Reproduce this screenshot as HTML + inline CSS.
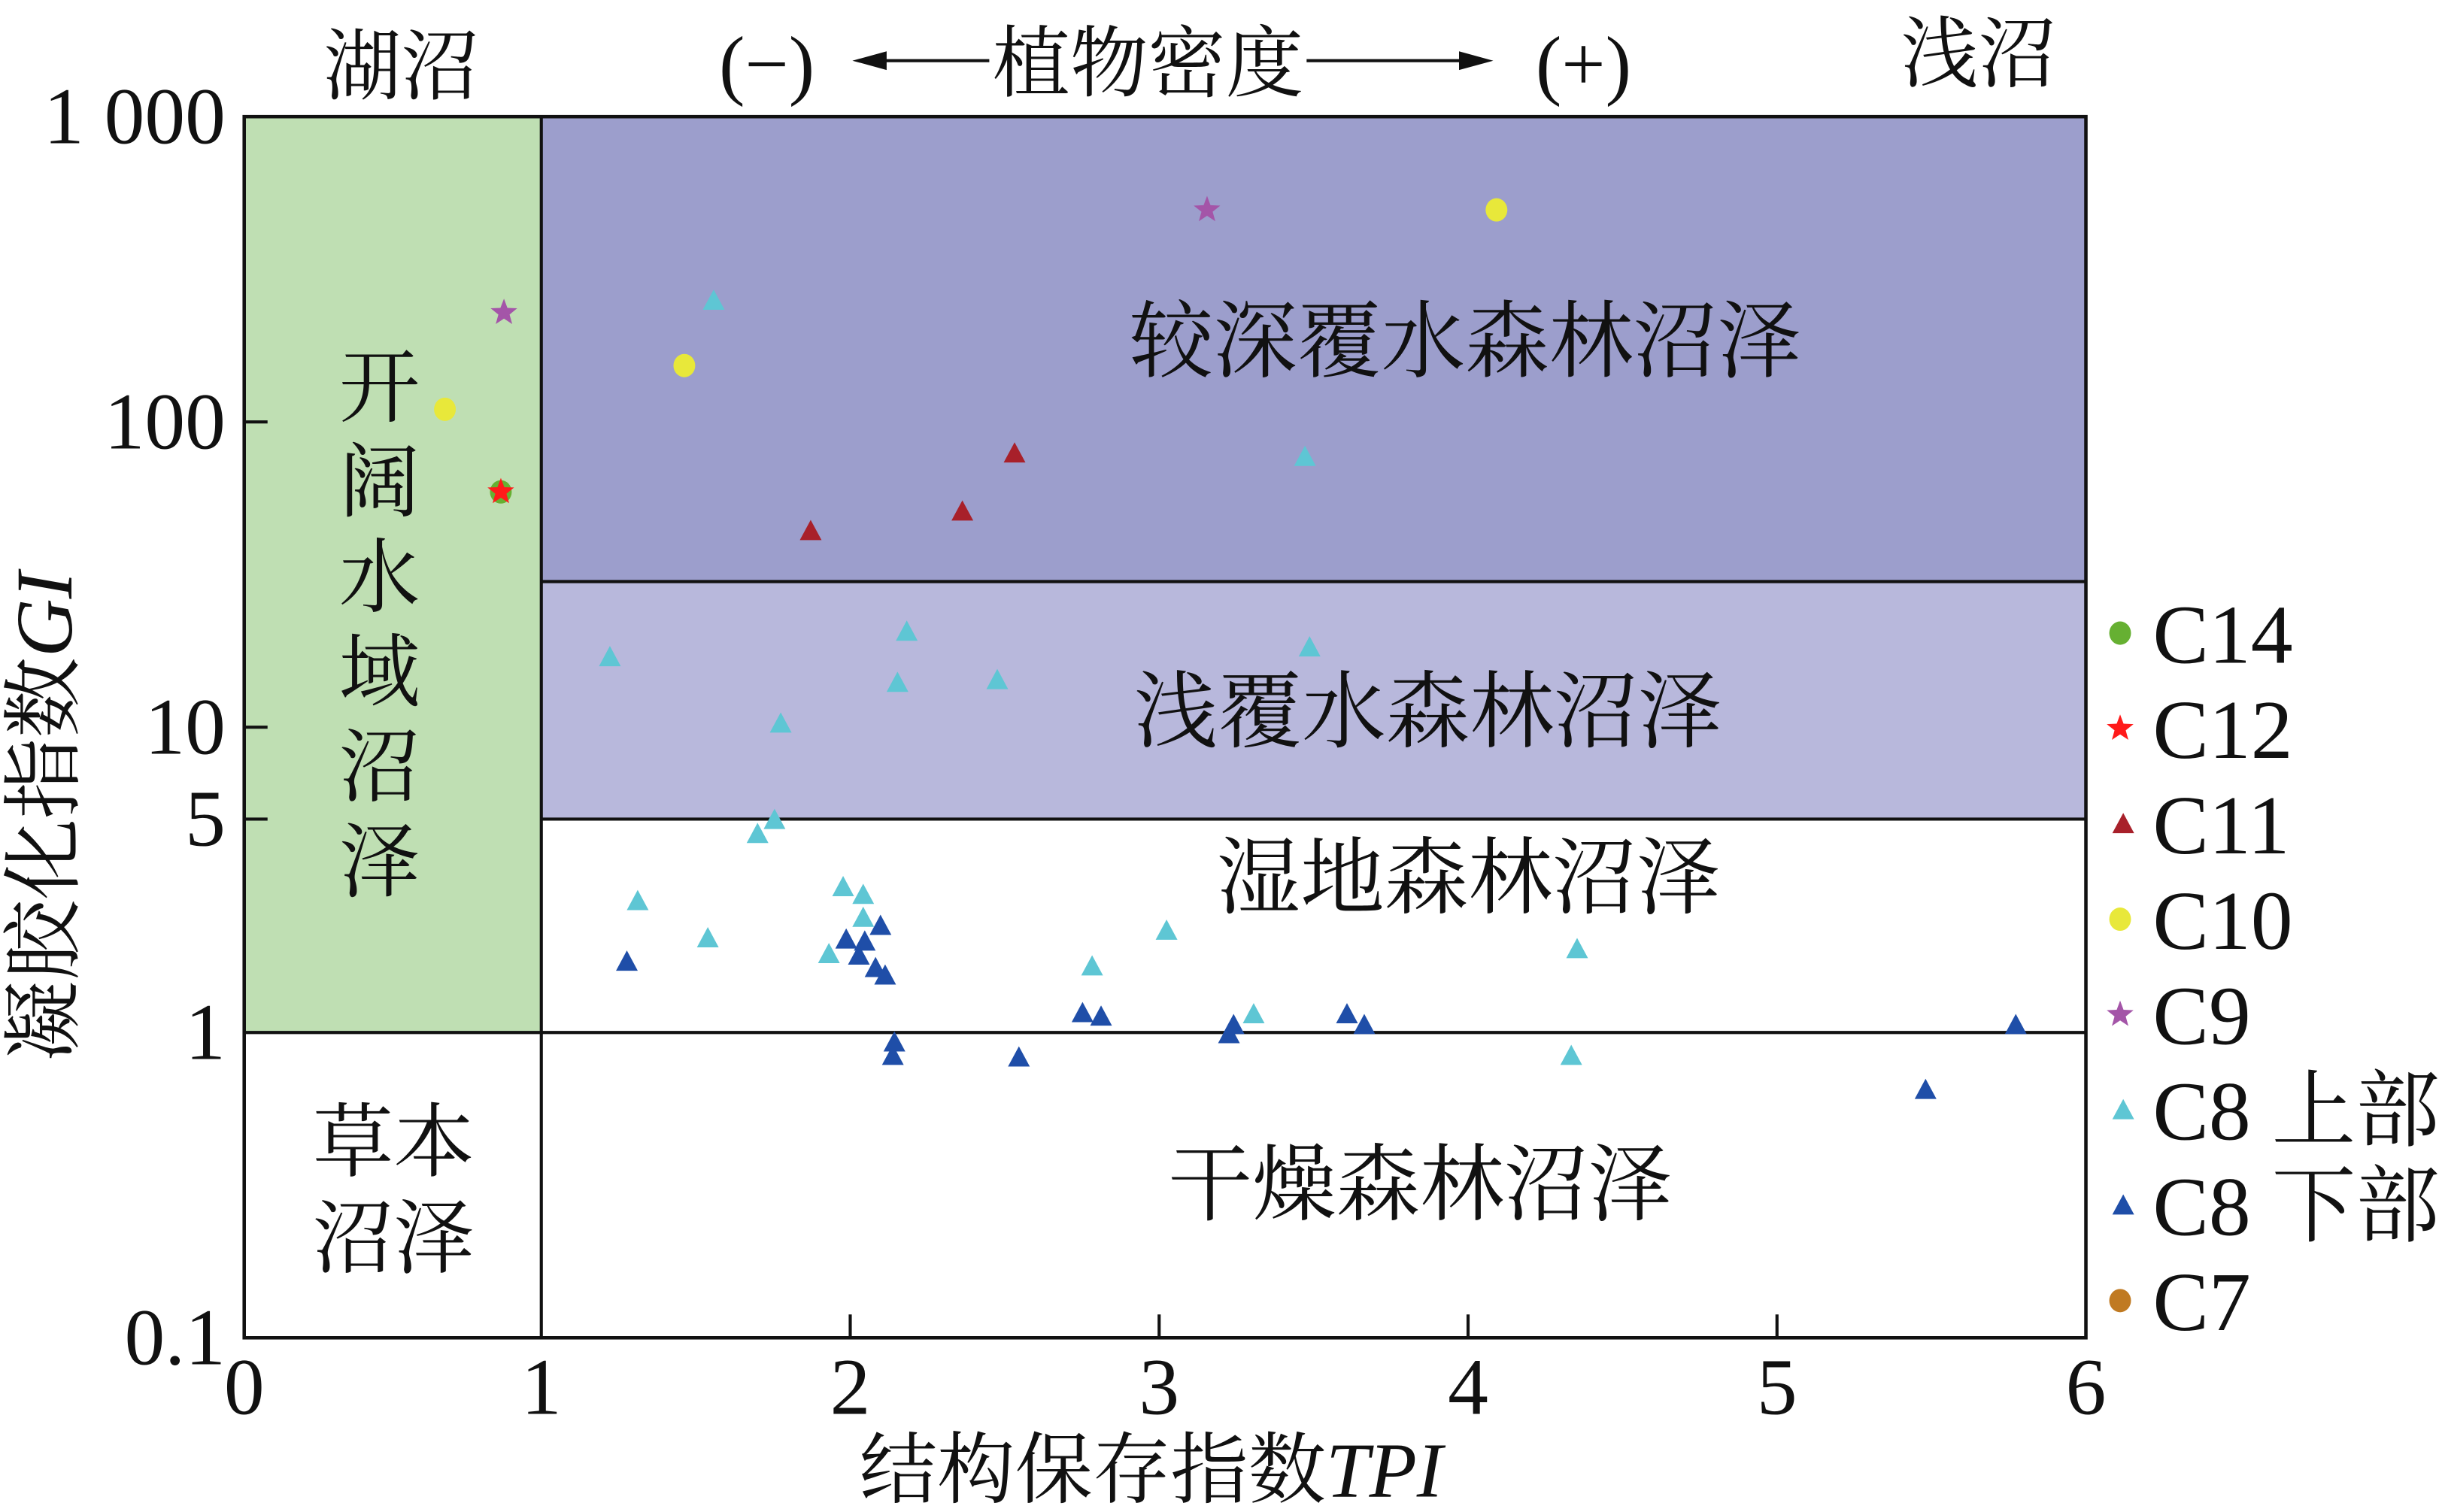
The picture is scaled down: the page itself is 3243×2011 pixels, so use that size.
<!DOCTYPE html>
<html><head><meta charset="utf-8"><style>
html,body{margin:0;padding:0;background:#fff;}
svg{display:block;}
text{font-family:"Liberation Serif","Noto Serif CJK SC",serif;fill:#111;}
</style></head><body>
<svg id="chart" width="3243" height="2011" viewBox="0 0 1568 972" preserveAspectRatio="none" xmlns="http://www.w3.org/2000/svg">
<g id="zones"></g>
<g id="pts"></g>
<g id="axes"></g>
<g id="labels"></g>
</svg>
<script>
const xTicks=[0,1,2,3,4,5,6];
const yTicks=[1000,100,10,5,1,0.1];
const yTickLabels=["1 000","100","10","5","1","0.1"];
const c14X=[0.869], c14Y=[59];
const c12X=[0.869], c12Y=[59];
const c11X=[1.872,2.363,2.532], c11Y=[44,51,79];
const c10X=[0.688,1.463,4.092], c10Y=[110,153,495];
const c9X=[0.879,3.155], c9Y=[228,495];
const c8uX=[1.558,3.472,1.222,2.183,2.153,2.476,3.487,1.775,1.755,1.700,1.312,1.539,1.977,2.042,2.042,1.931,3.024,2.783,4.353,3.306,4.334];
const c8uY=[250,77,17,20.6,14,14.3,18.3,10.3,4.98,4.48,2.7,2.04,3.0,2.83,2.38,1.81,2.16,1.65,1.88,1.15,0.84];
const c8lX=[1.277,1.987,2.098,2.047,2.028,2.082,2.113,2.143,2.138,2.546,2.752,2.812,3.226,3.241,3.608,3.664,5.481,5.773];
const c8lY=[1.71,2.02,2.24,1.99,1.79,1.63,1.54,0.93,0.84,0.83,1.16,1.13,0.99,1.06,1.15,1.06,0.65,1.06];
const c7X=[], c7Y=[];

const NS="http://www.w3.org/2000/svg";
const FL=157,X1=1341,Y0=860,Y1=75;
function xs(v){return Math.max(FL,149.4+198.6*v);}
function ys(v){return Y0-(Math.log10(v)+1)*(Y0-Y1)/4;}
function mk(tag,attrs,parent){const e=document.createElementNS(NS,tag);for(const k in attrs)e.setAttribute(k,attrs[k]);parent.appendChild(e);return e;}
const zones=document.getElementById('zones'),pts=document.getElementById('pts'),axes=document.getElementById('axes'),labels=document.getElementById('labels');

let r;
r=mk('rect',{x:xs(0),y:ys(1000),width:xs(1)-xs(0),height:ys(1)-ys(1000),fill:'#bfdfb3'},zones);

r=mk('rect',{x:xs(1),y:ys(1000),width:xs(6)-xs(1),height:ys(30)-ys(1000),fill:'#9c9ecc'},zones);

r=mk('rect',{x:xs(1),y:ys(30),width:xs(6)-xs(1),height:ys(5)-ys(30),fill:'#b8b8dc'},zones);

const st={stroke:'#111','stroke-width':2};
function line(x1,y1,x2,y2,name,p){const l=mk('line',Object.assign({x1,y1,x2,y2},st),p||zones);}
line(xs(1),ys(1000),xs(1),ys(0.1),'zone-divider-tpi1');
line(xs(1),ys(30),xs(6),ys(30),'zone-divider-gi30');
line(xs(1),ys(5),xs(6),ys(5),'zone-divider-gi5');
line(xs(0),ys(1),xs(6),ys(1),'zone-divider-gi1');

function tri(x,y,c){return mk('polygon',{points:`${x},${y-7} ${x-7},${y+6} ${x+7},${y+6}`,fill:c},pts);}
function star(x,y,c,R){let p=[];for(let i=0;i<10;i++){const a=-Math.PI/2+i*Math.PI/5;const rr=i%2?R*0.42:R;p.push((x+rr*Math.cos(a)).toFixed(1)+','+(y+rr*Math.sin(a)).toFixed(1));}return mk('polygon',{points:p.join(' '),fill:c},pts);}
function dot(x,y,c){return mk('ellipse',{cx:x,cy:y,rx:7,ry:7.5,fill:c},pts);}
const COL={c14:'#66b032',c12:'#ff1a1a',c11:'#a8202a',c10:'#e8e83a',c9:'#a455a8',c8u:'#5ec6d4',c8l:'#1f4ea8',c7:'#c07a22'};
let e;
c14X.forEach((v,i)=>{e=dot(xs(v),ys(c14Y[i]),COL.c14);});
c12X.forEach((v,i)=>{e=star(xs(v),ys(c12Y[i]),COL.c12,9);});
c11X.forEach((v,i)=>{e=tri(xs(v),ys(c11Y[i]),COL.c11);});
c10X.forEach((v,i)=>{e=dot(xs(v),ys(c10Y[i]),COL.c10);});
c9X.forEach((v,i)=>{e=star(xs(v),ys(c9Y[i]),COL.c9,9);});
c8uX.forEach((v,i)=>{e=tri(xs(v),ys(c8uY[i]),COL.c8u);});
c8lX.forEach((v,i)=>{e=tri(xs(v),ys(c8lY[i]),COL.c8l);});
c7X.forEach((v,i)=>{e=dot(xs(v),ys(c7Y[i]),COL.c7);});

e=mk('rect',{x:FL,y:Y1,width:X1-FL,height:Y0-Y1,fill:'none',stroke:'#111','stroke-width':2.2},axes);

function txt(s,x,y,size,anchor,name,p,extra){const t=mk('text',Object.assign({x,y,'font-size':size,'text-anchor':anchor||'middle'},extra||{}),p||labels);t.textContent=s;return t;}
xTicks.forEach(v=>{
  if(v>1&&v<6){line(xs(v),Y0,xs(v),Y0-15,'x-tick',axes);}
  txt(String(v),xs(v),909,52,'middle','x-tick-label',axes);
});
yTicks.forEach((v,i)=>{
  if(v!==1000&&v!==0.1&&v!==1){line(FL,ys(v),FL+15,ys(v),'y-tick',axes);}
  txt(yTickLabels[i],145,ys(v)+17,52,'end','y-tick-label',axes);
});
const xt=txt('结构保存指数',740,962,50,'middle','x-axis-title',axes);
const ti=mk('tspan',{'font-style':'italic'},xt);ti.textContent='TPI';
const yt=txt('凝胶化指数',0,0,52,'middle','y-axis-title',axes,{transform:'translate(46,525) rotate(-90)'});
const yi=mk('tspan',{'font-style':'italic'},yt);yi.textContent='GI';

txt('湖沼',258,60,50,'middle','lake-marsh-label');
txt('浅沼',1272,52,50,'middle','shallow-marsh-label');
txt('(−)',493,58,50,'middle','minus-label');
txt('(+)',1018,58,50,'middle','plus-label');
txt('植物密度',738,58,50,'middle','plant-density-label');
e=mk('path',{d:'M560,39 L636,39 M840,39 L950,39',stroke:'#111','stroke-width':2},labels);
e=mk('path',{d:'M548,39 L570,33 L570,45 Z M960,39 L938,33 L938,45 Z',fill:'#111'},labels);

txt('较深覆水森林沼泽',942,238,54,'middle','deep-water-forest-label');
txt('浅覆水森林沼泽',918,476,54,'middle','shallow-water-forest-label');
txt('湿地森林沼泽',944,583,54,'middle','wetland-forest-label');
txt('干燥森林沼泽',913,780,54,'middle','dry-forest-label');
['开','阔','水','域','沼','泽'].forEach((c,i)=>txt(c,244,267+i*61,52,'middle','open-water-label-char'));
txt('草本',253,752,52,'middle','herb-marsh-label');
txt('沼泽',253,814,52,'middle','herb-marsh-label');

const legNames=['C14','C12','C11','C10','C9','C8 上部','C8 下部','C7'];
const legKeys=['c14','c12','c11','c10','c9','c8u','c8l','c7'];
const legShape=['dot','star','tri','dot','star','tri','tri','dot'];
legNames.forEach((n,i)=>{
  const y=407+i*61.3;
  let m;
  if(legShape[i]==='dot')m=dot(1363,y,COL[legKeys[i]]);
  else if(legShape[i]==='star')m=star(1363,y,COL[legKeys[i]],9);
  else m=tri(1365,y,COL[legKeys[i]]);
  labels.appendChild(m);
  
  
  txt(n,1384,y+19,54,'start','legend-entry');
});
</script>
</body></html>
